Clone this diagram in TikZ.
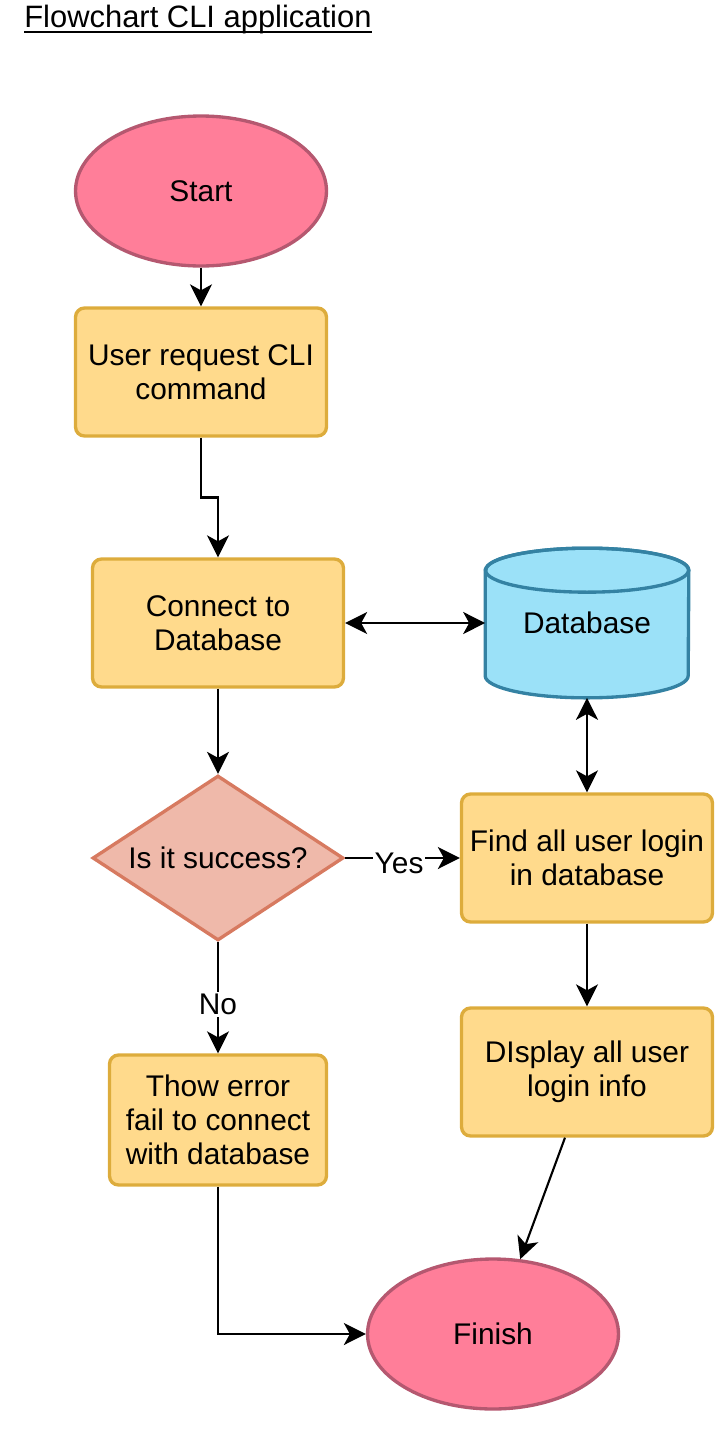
\documentclass[tikz,border=0pt]{standalone}
\usepackage{fontspec}
\setmainfont{Liberation Sans}
\usepackage{tikz}
\usetikzlibrary{arrows.meta, positioning, calc, shapes.geometric}
\usepackage{xcolor}
\definecolor{startfill}{RGB}{255,126,153}
\definecolor{startline}{RGB}{181,88,112}
\definecolor{boxfill}{RGB}{255,218,140}
\definecolor{boxline}{RGB}{221,172,60}
\definecolor{dbfill}{RGB}{155,225,248}
\definecolor{dbline}{RGB}{52,130,163}
\definecolor{askfill}{RGB}{239,185,170}
\definecolor{askline}{RGB}{215,122,96}

\begin{document}
\begin{tikzpicture}[x=0.02cm, y=-0.02cm,
  font=\fontsize{17}{19.5}\selectfont,
  terminal/.style={ellipse, draw=startline, fill=startfill, line width=1.9pt, minimum width=5.02cm, minimum height=3cm},
  stepbox/.style={draw=boxline, fill=boxfill, line width=1.9pt, rounded corners=0.18cm, minimum width=5.02cm, minimum height=2.56cm, align=center, inner sep=2pt},
  ask/.style={diamond, aspect=1.52, draw=askline, fill=askfill, line width=1.9pt, minimum width=5.02cm, minimum height=3.3cm, inner sep=0pt},
  flow/.style={-{Stealth[length=0.44cm, width=0.44cm, inset=0.12cm]}, line width=1.2pt},
  twoway/.style={{Stealth[length=0.44cm, width=0.44cm, inset=0.12cm]}-{Stealth[length=0.44cm, width=0.44cm, inset=0.12cm]}, line width=1.2pt},
  lbl/.style={fill=white, inner sep=1pt}]
  \useasboundingbox (0,0) rectangle (718,1434);
  \node[anchor=base west, inner sep=0pt, font=\fontsize{17.6}{20}\selectfont] (title) at (24,27) {Flowchart CLI application};
  \draw[line width=1.2pt] ($(title.base west)+(0,5)$) -- ($(title.base east)+(0,5)$);

  \node[terminal] (start) at (201,191) {Start};
  \node[stepbox] (request) at (201,372) {User request CLI\\command};
  \node[stepbox] (connect) at (218,623) {Connect to\\Database};
  \node[minimum width=4.06cm, minimum height=2.98cm] (db) at (587,623) {};
  \node[ask] (success) at (218,858) {Is it success?};
  \node[stepbox] (find) at (587,858) {Find all user login\\in database};
  \node[stepbox, minimum width=4.34cm, minimum height=2.6cm] (error) at (218,1120) {Thow error\\fail to connect\\with database};
  \node[stepbox] (display) at (587,1072) {DIsplay all user\\login info};
  \node[terminal] (finish) at (493,1334) {Finish};

  % cylinder for the database
  \draw[dbline, fill=dbfill, line width=1.9pt]
    ($(db.north west)+(0,22)$) -- ($(db.south west)+(0,-22)$)
    arc[start angle=180, end angle=360, x radius=101.5, y radius=-22]
    -- ($(db.north east)+(0,22)$)
    arc[start angle=0, end angle=180, x radius=101.5, y radius=-22] -- cycle;
  \draw[dbline, line width=1.9pt] ($(db.north)+(0,22)$) ellipse[x radius=101.5, y radius=22];
  \node at (db.center) {Database};

  \draw[flow] (start) -- (request);
  \draw[flow] (request.south) |- ($(request.south)!0.5!(connect.north)$) -| (connect.north);
  \draw[twoway] (connect.east) -- (db.west);
  \draw[flow] (connect) -- (success);
  \draw[twoway] (db.south) -- (find.north);
  \draw[flow] (success.east) -- node[lbl, pos=0.47, yshift=-0.1cm] {Yes} (find.west);
  \draw[flow] (success.south) -- node[lbl, pos=0.56] {No} (error.north);
  \draw[flow] (find) -- (display);
  \draw[flow] ($(display.south)+(-22,0)$) -- (finish.70);
  \draw[flow] (error.south) |- (finish.west);
\end{tikzpicture}
\end{document}
